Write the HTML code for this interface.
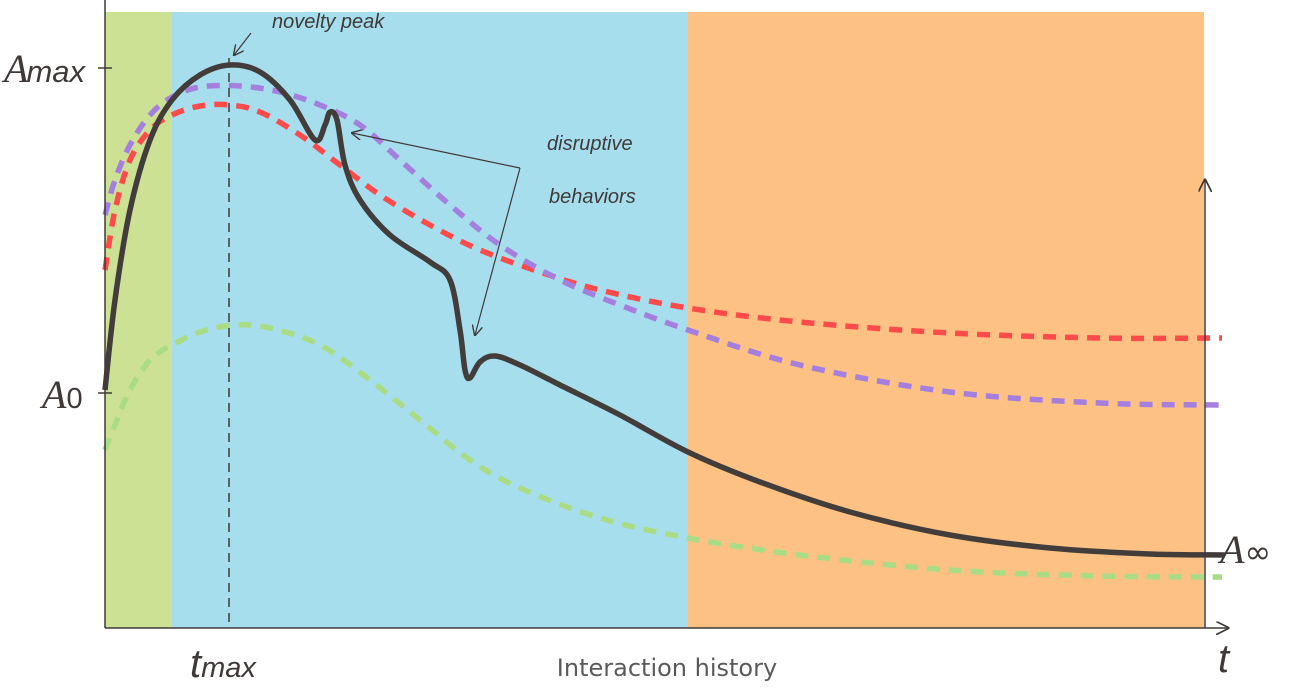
<!DOCTYPE html>
<html><head><meta charset="utf-8"><style>
body{margin:0;background:#fff;width:1300px;height:691px;overflow:hidden}
svg text{fill:#3f3a38}
</style></head><body>
<svg id="chart" width="1300" height="691" viewBox="0 0 1300 691" xmlns="http://www.w3.org/2000/svg">
<defs><marker id="ah" viewBox="0 0 10 10" refX="9" refY="5" markerWidth="9" markerHeight="9" orient="auto"><path d="M0,0 L10,5 L0,10" fill="none" stroke="#3f3a38" stroke-width="1.3"/></marker></defs>
<rect x="105" y="12" width="67" height="616" fill="#cde195"/>
<rect x="172" y="12" width="516" height="616" fill="#a7deee"/>
<rect x="688" y="12" width="516" height="616" fill="#fdc283"/>
<g id="series"></g>
<line x1="105" y1="0" x2="105" y2="628" stroke="#3f3a38" stroke-width="1.5"/>
<line x1="105" y1="628" x2="1228" y2="628" stroke="#3f3a38" stroke-width="1.5" marker-end="url(#ah)"/>
<line x1="1205" y1="628" x2="1205" y2="180" stroke="#3f3a38" stroke-width="1.5" marker-end="url(#ah)"/>
<line x1="98" y1="68" x2="112" y2="68" stroke="#3f3a38" stroke-width="1.5"/>
<line x1="98" y1="393" x2="112" y2="393" stroke="#3f3a38" stroke-width="1.5"/>
<line x1="229" y1="58" x2="229" y2="628" stroke="#3f3a38" stroke-width="1.5" stroke-dasharray="9,6"/>
<line x1="251" y1="33" x2="234" y2="55" stroke="#3f3a38" stroke-width="1.2" marker-end="url(#ah)"/>
<line x1="520" y1="168" x2="352" y2="133" stroke="#3f3a38" stroke-width="1.2" marker-end="url(#ah)"/>
<line x1="520" y1="168" x2="475" y2="335" stroke="#3f3a38" stroke-width="1.2" marker-end="url(#ah)"/>
<text x="4" y="82" font-family="Liberation Serif, serif" font-style="italic" font-size="40">A<tspan font-family="Liberation Sans, sans-serif" font-size="31" dx="-2">max</tspan></text>
<text x="42" y="408" font-family="Liberation Serif, serif" font-style="italic" font-size="40">A<tspan font-family="Liberation Sans, sans-serif" font-style="normal" font-size="29">0</tspan></text>
<text x="1220" y="563" font-family="Liberation Serif, serif" font-style="italic" font-size="40">A<tspan font-style="normal" font-family="DejaVu Sans, sans-serif" font-size="32">∞</tspan></text>
<text x="190" y="677" font-family="Liberation Sans, sans-serif" font-style="italic" font-size="40">t<tspan font-size="29">max</tspan></text>
<text x="1218" y="672" font-family="Liberation Sans, sans-serif" font-style="italic" font-size="40">t</text>
<text x="667" y="676" text-anchor="middle" font-family="DejaVu Sans, sans-serif" font-size="24" style="fill:#5a5a5a">Interaction history</text>
<text x="272" y="28" font-family="Liberation Sans, sans-serif" font-style="italic" font-size="20">novelty peak</text>
<text x="547" y="150" font-family="Liberation Sans, sans-serif" font-style="italic" font-size="20">disruptive</text>
<text x="549" y="203" font-family="Liberation Sans, sans-serif" font-style="italic" font-size="20">behaviors</text>
</svg>
<script>
const blackT=[0,10,25,45,67,95,125,155,185,210,220,225,232,240,255,285,325,345,355,360,365,375,390,415,455,515,583,655,745,845,945,1045,1120];
const blackV=[238,328,418,488,528,553,563,556,528,488,503,516,508,463,428,393,366,348,298,258,250,266,272,263,243,213,176,146,116,93,80,74,73];
const redT=[0,10,25,45,67,95,125,155,195,235,275,325,375,435,495,583,695,845,995,1117];
const redV=[358,418,468,498,513,522,523,516,493,463,433,403,378,356,338,320,306,295,290,290];
const purpleT=[0,10,25,45,67,95,135,175,215,255,295,345,395,455,515,583,695,845,995,1117];
const purpleV=[413,448,483,513,531,541,542,536,523,503,468,423,383,348,323,298,263,236,225,223];
const greenT=[0,10,25,45,67,95,130,165,215,265,315,365,415,495,583,695,845,995,1117];
const greenV=[178,203,238,268,283,296,303,300,283,248,208,168,140,110,90,73,58,52,51];
const x0=105,y0=628;
const sx=t=>x0+t, sy=v=>y0-v;
const g=document.getElementById('series');
function path(T,V){
  const p=T.map((t,i)=>[sx(t),sy(V[i])]);
  let d='M'+p[0][0]+','+p[0][1];
  for(let i=0;i<p.length-1;i++){
    const a=p[i-1]||p[i],b=p[i],c=p[i+1],e=p[i+2]||c;
    const c1=[b[0]+(c[0]-a[0])/6,b[1]+(c[1]-a[1])/6],c2=[c[0]-(e[0]-b[0])/6,c[1]-(e[1]-b[1])/6];
    d+=` C${c1[0]},${c1[1]} ${c2[0]},${c2[1]} ${c[0]},${c[1]}`;
  }
  return d;
}
function add(T,V,color,dash,name,w){
  const el=document.createElementNS('http://www.w3.org/2000/svg','path');
  el.setAttribute('d',path(T,V));
  el.setAttribute('fill','none');
  el.setAttribute('stroke',color);
  el.setAttribute('stroke-width',w);
  if(dash)el.setAttribute('stroke-dasharray',dash);
  
  
  g.appendChild(el);
}
add(greenT,greenV,'#a9dc84','13,9','green-series',5.5);
add(redT,redV,'#fd4b4b','13,9','red-series',5.5);
add(purpleT,purpleV,'#a57fdd','13,9','purple-series',5.5);
add(blackT,blackV,'#423d3b',null,'attention-curve',5.5);
</script>
</body></html>
